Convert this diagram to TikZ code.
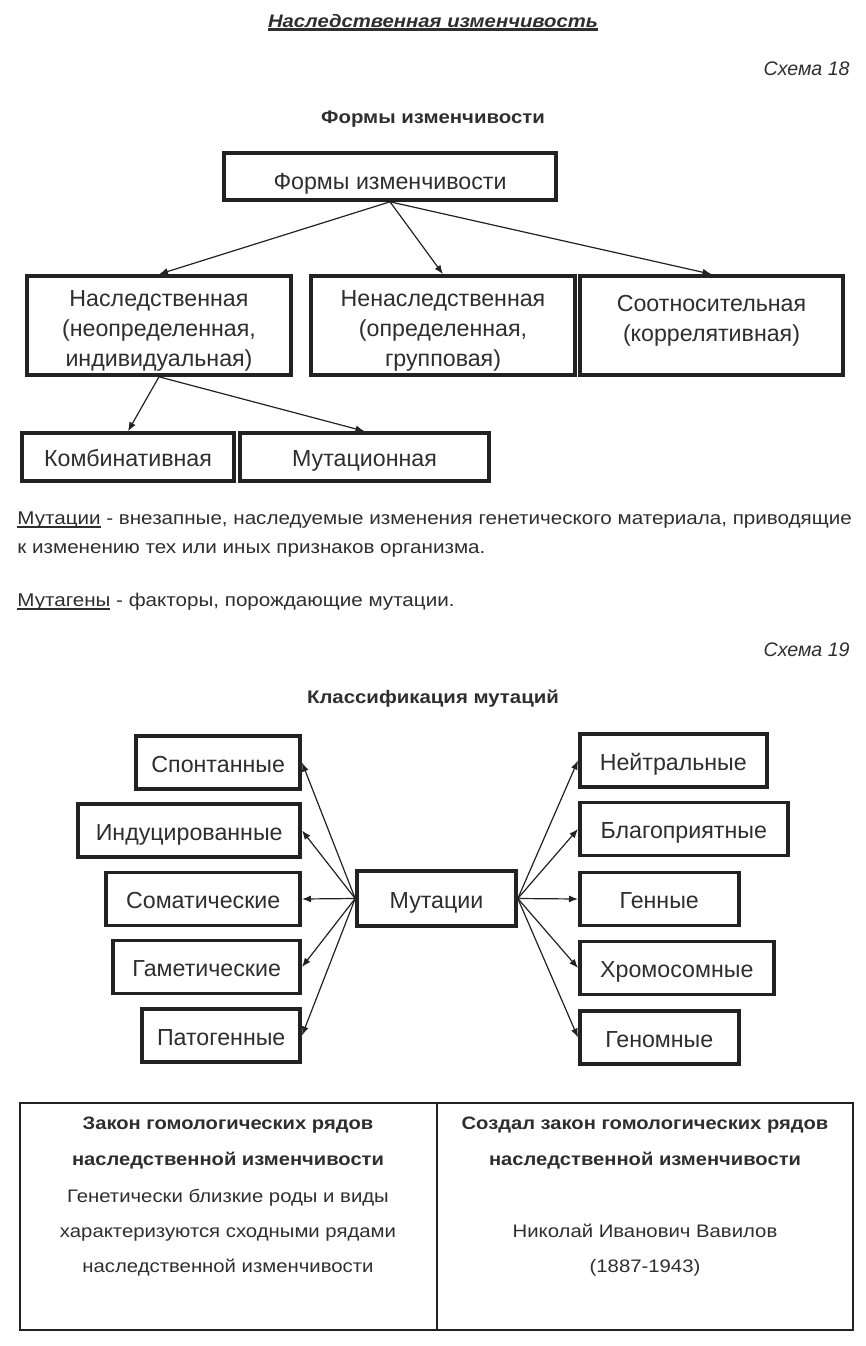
\documentclass[tikz,border=0pt]{standalone}
\usepackage{fontspec}
\setmainfont{Liberation Sans}
\newfontfamily\widefont[FakeStretch=1.12]{Liberation Sans}
\usetikzlibrary{arrows.meta}

\definecolor{ink}{HTML}{222222}
\definecolor{textgray}{HTML}{2E2E2E}

% underline with a chosen rule thickness
\newcommand{\termline}[2][0.9pt]{\setbox0\hbox{#2}\rlap{\rule[-2pt]{\wd0}{#1}}\box0\relax}

\begin{document}
\begin{tikzpicture}[
    x=0.5pt, y=-0.5pt,
    >={Latex[length=4.5pt,width=3.5pt]},
    form box/.style={draw=ink,line width=1.8pt,align=center,inner sep=0pt,
      minimum height=49.5pt,text depth=0pt,font=\fontsize{11.6}{15}\selectfont,text=textgray},
    kind box/.style={draw=ink,line width=1.8pt,inner sep=0pt,minimum height=26.5pt,
      text height=9.5pt,text depth=0pt,font=\fontsize{11.6}{14}\selectfont,text=textgray},
    heading/.style={anchor=base,inner sep=0pt,font=\widefont\bfseries\fontsize{9.1}{11}\selectfont,text=textgray},
    schema label/.style={anchor=base east,inner sep=0pt,font=\itshape\fontsize{9.8}{12}\selectfont,text=textgray},
    text line/.style={anchor=base west,inner sep=0pt,font=\widefont\fontsize{9.2}{11}\selectfont,text=textgray},
    cell line/.style={anchor=base,inner sep=0pt,font=\widefont\fontsize{9.07}{11}\selectfont,text=textgray},
    cell head/.style={cell line,font=\widefont\bfseries\fontsize{9.0}{11}\selectfont},
    every edge/.style={draw=ink,->,line width=0.6pt}
  ]
    \path[fill=white] (0,0) rectangle (866,1346);

    % Scheme 18
    \node[heading,font=\widefont\bfseries\itshape\fontsize{9.05}{11}\selectfont] (title) at (433,27)
      {\termline[1.6pt]{Наследственная изменчивость}};
    \node[schema label] (schema18) at (850,75) {Схема 18};
    \node[heading] (formshead) at (433,123) {Формы изменчивости};

    \node[kind box, minimum width=166pt, minimum height=23.5pt, text height=12.5pt] (forms) at (390,176.5) {Формы изменчивости};

    \node[form box, minimum width=132pt, text height=40.5pt] (her) at (159,325.5) {Наследственная\\(неопределенная,\\индивидуальная)};
    \node[form box, minimum width=132pt, text height=40.5pt] (nonher) at (443,325.5) {Ненаследственная\\(определенная,\\групповая)};
    \node[form box, minimum width=131.5pt, text height=16.2pt] (corr) at (711.5,325.5) {Соотносительная\\(коррелятивная)};

    \node[kind box, minimum width=106pt, minimum height=24pt] (comb) at (128,457) {Комбинативная};
    \node[kind box, minimum width=124.5pt, minimum height=24pt] (mutat) at (364.5,457) {Мутационная};

    \path (forms.south) edge (her.north)
          (forms.south) edge (nonher.north)
          (forms.south) edge (corr.north)
          (her.south) edge (comb.north)
          (her.south) edge (mutat.north);

    % Definitions
    \node[text line] (mutdef) at (17,524) {\termline{Мутации} - внезапные, наследуемые изменения генетического материала, приводящие};
    \node[text line] (mutdefb) at (17,553) {к изменению тех или иных признаков организма.};
    \node[text line] (mutagen) at (17,606) {\termline{Мутагены} - факторы, порождающие мутации.};

    % Scheme 19
    \node[schema label] (schema19) at (850,656) {Схема 19};
    \node[heading] (classhead) at (433,703) {Классификация мутаций};

    \node[kind box, minimum width=79.5pt, minimum height=27.5pt] (mutations) at (436.5,898.5) {Мутации};

    \node[kind box, anchor=east, minimum width=82pt] (spont) at (302,762.5) {Спонтанные};
    \node[kind box, anchor=east, minimum width=111pt] (induc) at (302,830.5) {Индуцированные};
    \node[kind box, anchor=east, minimum width=97pt] (somat) at (302,899) {Соматические};
    \node[kind box, anchor=east, minimum width=93.5pt] (gamet) at (302,967) {Гаметические};
    \node[kind box, anchor=east, minimum width=79pt] (patho) at (302,1035.5) {Патогенные};

    \node[kind box, anchor=west, minimum width=93.5pt] (neutr) at (578,760.5) {Нейтральные};
    \node[kind box, anchor=west, minimum width=104pt] (favor) at (578,829) {Благоприятные};
    \node[kind box, anchor=west, minimum width=79.5pt] (gene) at (578,899) {Генные};
    \node[kind box, anchor=west, minimum width=97pt] (chrom) at (578,968) {Хромосомные};
    \node[kind box, anchor=west, minimum width=79.5pt] (genom) at (578,1037.5) {Геномные};

    \foreach \n in {spont,induc,somat,gamet,patho}
      \path (mutations.west) edge (\n.east);
    \foreach \n in {neutr,favor,gene,chrom,genom}
      \path (mutations.east) edge (\n.west);

    % Vavilov table
    \draw[ink,line width=1pt] (20,1103) rectangle (853,1330);
    \draw[ink,line width=1pt] (437,1103) -- (437,1330);

    \node[cell head] (lawa) at (228,1129) {Закон гомологических рядов};
    \node[cell head] (lawb) at (228,1165) {наследственной изменчивости};
    \node[cell line] (lawc) at (228,1202) {Генетически близкие роды и виды};
    \node[cell line] (lawd) at (228,1237) {характеризуются сходными рядами};
    \node[cell line] (lawe) at (228,1272) {наследственной изменчивости};

    \node[cell head] (authora) at (645,1129) {Создал закон гомологических рядов};
    \node[cell head] (authorb) at (645,1165) {наследственной изменчивости};
    \node[cell line] (authorc) at (645,1237) {Николай Иванович Вавилов};
    \node[cell line] (authord) at (645,1272) {(1887-1943)};
\end{tikzpicture}
\end{document}
